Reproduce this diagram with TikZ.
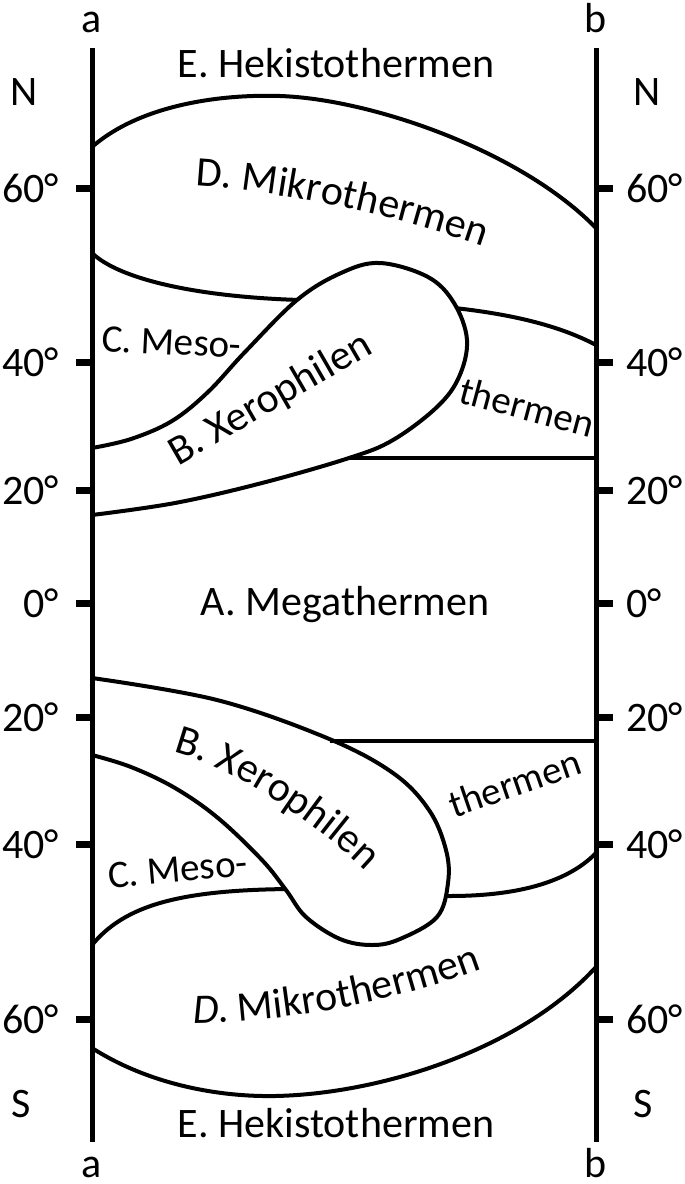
\documentclass[tikz,border=0pt]{standalone}
\usepackage{fontspec}
\setmainfont{Carlito}
\usetikzlibrary{decorations.text}
\newcommand\bigfont{\fontsize{42}{50}\selectfont}
\newcommand\midfont{\fontsize{39}{46}\selectfont}
\begin{document}
\begin{tikzpicture}[x=1pt,y=-1pt,
  bd/.style={line width=4pt},
  axisline/.style={line width=5pt},
  tickmark/.style={line width=7pt},
  lab/.style={font=\bigfont, inner sep=0pt, outer sep=0pt},
  mid/.style={font=\midfont, inner sep=0pt, outer sep=0pt}]
\useasboundingbox (0,0) rectangle (685,1184);
\fill[white] (0,0) rectangle (685,1184);

% named end points
\coordinate (aT) at (92,48);  \coordinate (aB) at (92,1142);
\coordinate (bT) at (596,48); \coordinate (bB) at (596,1142);

% ---------- north ----------
% E / D boundary
\draw[bd] (92,147) .. controls (140,105) and (220,94) .. (280,96)
          .. controls (370,99) and (520,150) .. (596,228);
% D / C boundary
\draw[bd] (92,253) .. controls (120,280) and (200,297) .. (300,300)
          .. controls (430,302) and (530,310) .. (596,345);
% B loop
\draw[bd, fill=white] plot[smooth, tension=0.6] coordinates {(92,515) (175,503) (262,483) (349,458) (393,440) (437,407) (459,377) (467,340) (454,303) (428,277) (380,263) (341,273) (297,300) (245,352) (208,392) (172,421) (131,439) (92,448)} -- cycle;
\coordinate (hN1) at (349,458); \coordinate (hN2) at (596,458);
\draw[bd] (hN1) -- (hN2);

% ---------- south ----------
% C / D boundary
\draw[bd] (92,945) .. controls (125,905) and (180,890) .. (290,889)
          .. controls (360,889) and (420,896) .. (450,896)
          .. controls (510,896) and (565,885) .. (596,853);
% B loop
\draw[bd, fill=white] plot[smooth, tension=0.6] coordinates {(92,678) (217,700) (327,738) (393,773) (429,810) (446,850) (448,883) (437,917) (400,939) (372,945) (340,939) (306,917) (286,890) (262,860) (218,818) (175,788) (131,767) (92,755)} -- cycle;
\coordinate (hS1) at (330,741); \coordinate (hS2) at (596,741);
\draw[bd] (hS1) -- (hS2);
% D / E boundary
\draw[bd] (92,1048) .. controls (150,1085) and (220,1097) .. (275,1096)
          .. controls (380,1094) and (520,1050) .. (596,967);

% ---------- axes ----------
\draw[axisline] (aT) -- (aB);
\draw[axisline] (bT) -- (bB);
\foreach \yy/\tt [count=\i] in {188/60°, 362/40°, 490/20°, 603/0°, 717/20°, 844/40°, 1019/60°}{
  \draw[tickmark] (76,\yy) -- (92,\yy);
  \draw[tickmark] (596,\yy) -- (613,\yy);
  \node[lab, anchor=base east] (L\i) at (59,\yy+14) {\tt};
  \node[lab, anchor=base west] (R\i) at (626,\yy+14) {\tt};
}
\node[lab, anchor=base] (aTop) at (92,32) {a};
\node[lab, anchor=base] (bTop) at (596,32) {b};
\node[lab, anchor=base] (aBot) at (92,1177) {a};
\node[lab, anchor=base] (bBot) at (596,1177) {b};
\node[lab, anchor=base] (NL) at (24,105) {N};
\node[lab, anchor=base] (NR) at (647,105) {N};
\node[lab, anchor=base] (SL) at (21,1117) {S};
\node[lab, anchor=base] (SR) at (643,1117) {S};

% ---------- zone labels ----------
\node[lab, anchor=base] (Etop) at (336,77) {E. Hekistothermen};
\node[lab, anchor=base] (Ebot) at (336,1137) {E. Hekistothermen};
\node[lab, anchor=base] (A) at (345,615) {A. Megathermen};
\node[lab, anchor=base west, rotate=30] (BN) at (178,466) {B. Xerophilen};
\node[mid, anchor=base west, rotate=-3] (CN) at (101,351) {C. Meso-};
\node[mid, anchor=base west, rotate=-15] (TN) at (457,402) {thermen};
\node[mid, anchor=base west, rotate=5] (CS) at (109,888) {C. Meso-};
\node[mid, anchor=base west, rotate=19] (TS) at (454,818) {thermen};

\path[decorate, decoration={text along path, text align=left,
  text={|\bigfont|D. Mikrothermen}}]
  (195,186) .. controls (280,191) and (400,215) .. (505,254);
\path[decorate, decoration={text along path, text align=left,
  text={|\bigfont|B. Xerophilen}}]
  (173,752) .. controls (230,766) and (320,822) .. (385,890);
\path[decorate, decoration={text along path, text align=left,
  text={|\bigfont\itshape|D|\bigfont\upshape|. Mikrothermen}}]
  (193,1023) .. controls (280,1023) and (400,1003) .. (505,960);
\end{tikzpicture}
\end{document}
